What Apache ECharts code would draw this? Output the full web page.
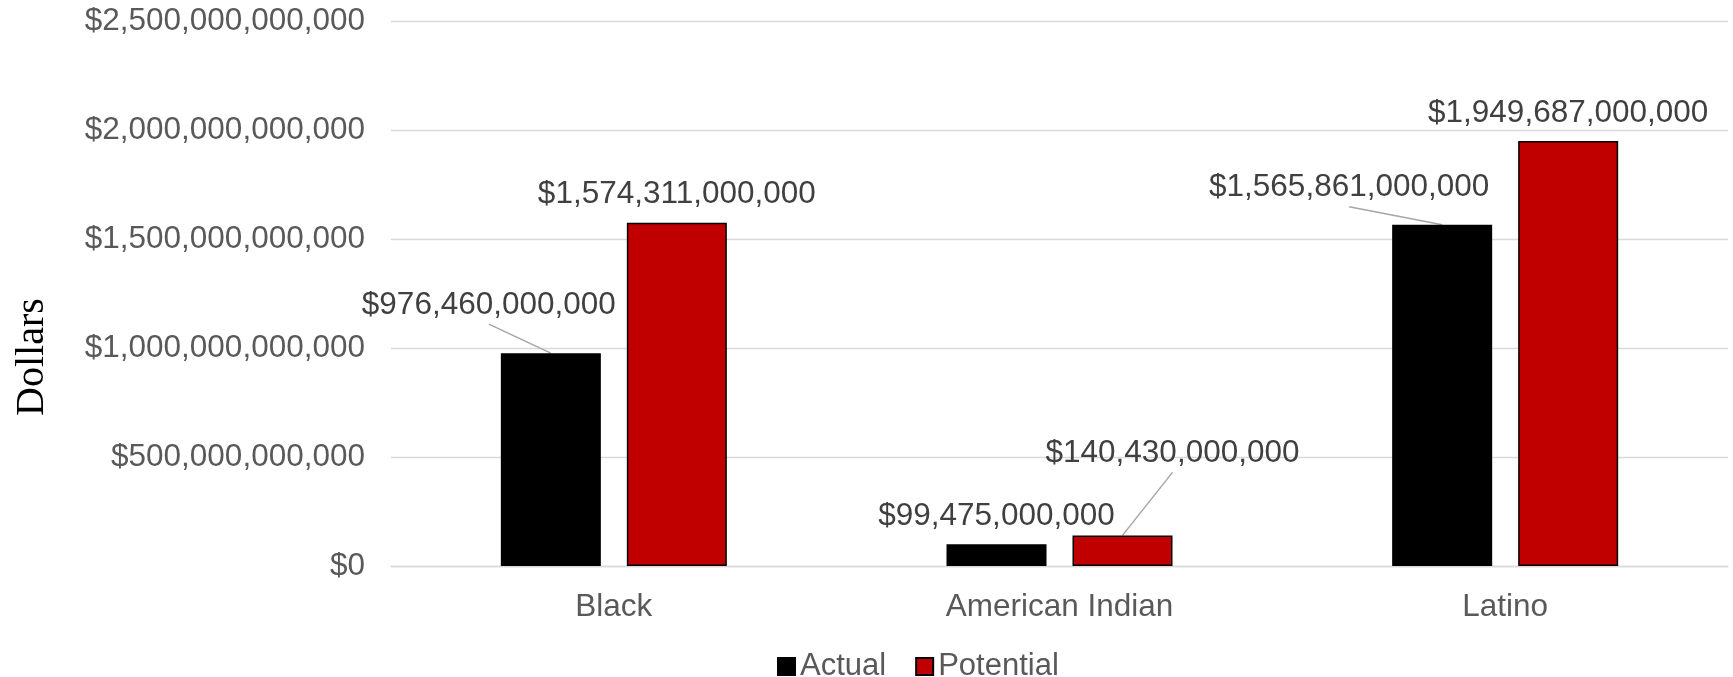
<!DOCTYPE html>
<html>
<head>
<meta charset="utf-8">
<script src="https://cdn.jsdelivr.net/npm/echarts@6/dist/echarts.min.js"></script>
<style>
  html, body { margin: 0; padding: 0; background: #fff; }
  #chart { width: 1733px; height: 677px; }
</style>
</head>
<body>
<div id="chart"></div>
<script>
  var categories = ['Black', 'American Indian', 'Latino'];
  var actualValues = [976460000000, 99475000000, 1565861000000];
  var potentialValues = [1574311000000, 140430000000, 1949687000000];
  var seriesNames = ['Actual', 'Potential'];

  // label nudges for the ones that sit off the bar (with a leader line)
  var labelShift = {
    '0-0': [-62, -20],
    '1-1': [50, -54],
    '0-2': [-93, -9]
  };

  function fmtDollar(v){
    return '$' + Number(v).toLocaleString('en-US');
  }

  var font = 'Liberation Sans, Arial, sans-serif';

  var chart = echarts.init(document.getElementById('chart'));

  function barSeries(name, data, color){
    return {
      name: name,
      type: 'bar',
      data: data,
      barWidth: 100,
      barGap: '26%',
      itemStyle: { color: color, borderColor: '#000', borderWidth: 1.5 },
      label: {
        show: true, position: 'top', distance: 12,
        fontFamily: font, fontSize: 31.5, color: '#404040',
        formatter: function(p){ return fmtDollar(p.value); }
      },
      labelLayout: function(p){
        var s = labelShift[p.seriesIndex + '-' + p.dataIndex];
        if(!s) return {};
        return { dx: s[0], dy: s[1] };
      }
    };
  }

  var opt = {
    animation: false,
    grid: { left: 391, right: 5, top: 21, bottom: 111 },
    legend: {
      left: 772, top: 646,
      itemWidth: 17, itemHeight: 17, itemGap: 29,
      icon: 'rect',
      textStyle: { fontFamily: font, fontSize: 31, color: '#595959' },
      data: seriesNames
    },
    xAxis: {
      type: 'category', data: categories,
      axisTick: { show: false },
      axisLine: { lineStyle: { color: '#D9D9D9', width: 1.3 } },
      axisLabel: { fontFamily: font, fontSize: 31.5, color: '#595959', margin: 25 }
    },
    yAxis: {
      type: 'value', min: 0, max: 2500000000000, interval: 500000000000,
      name: 'Dollars', nameLocation: 'middle', nameGap: 339, nameRotate: 90,
      nameTextStyle: { fontFamily: 'Liberation Serif, Times New Roman, serif', fontSize: 40, color: '#000', padding: [0, 127, 0, 0] },
      axisLine: { show: false },
      axisTick: { show: false },
      splitLine: { lineStyle: { color: '#D9D9D9', width: 1.3 } },
      axisLabel: { fontFamily: font, fontSize: 31.5, color: '#595959', margin: 26, formatter: fmtDollar }
    },
    series: [
      barSeries(seriesNames[0], actualValues, '#000000'),
      barSeries(seriesNames[1], potentialValues, '#C00000')
    ]
  };

  chart.setOption(opt);

  // leader lines from bar top to the shifted labels
  function drawLeaders(){
    var lines = [];
    var model = chart.getModel();
    Object.keys(labelShift).forEach(function(k){
      var parts = k.split('-');
      var si = +parts[0], di = +parts[1];
      var lay = model.getSeriesByIndex(si).getData().getItemLayout(di);
      if(!lay) return;
      var x = lay.x + lay.width / 2;
      var y = lay.y + lay.height;
      var s = labelShift[k];
      lines.push({
        type: 'line',
        shape: { x1: x, y1: y, x2: x + s[0], y2: y + s[1] - 9 },
        style: { stroke: '#A6A6A6', lineWidth: 1.5 },
        silent: true
      });
    });
    chart.setOption({ graphic: lines });
  }
  drawLeaders();
</script>
</body>
</html>
